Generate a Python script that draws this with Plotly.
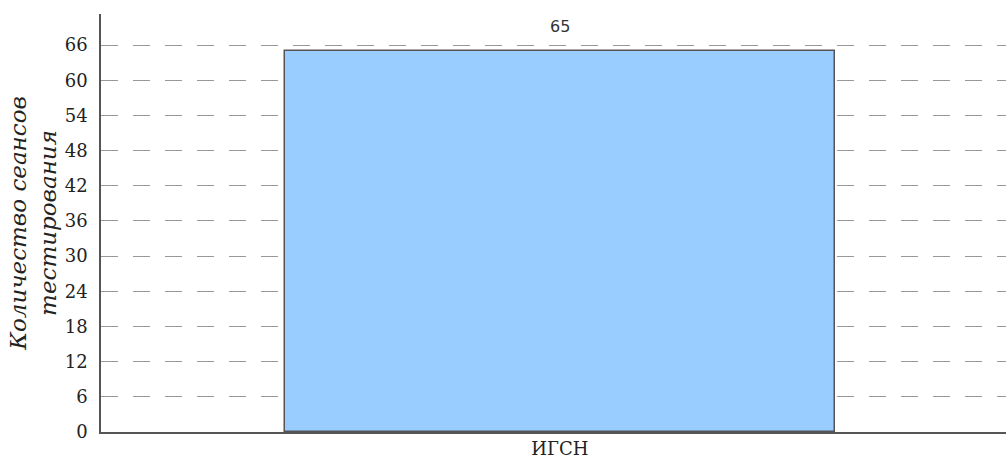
import plotly.graph_objects as go

categories = ["ИГСН"]
values = [65]
y_ticks = [0, 6, 12, 18, 24, 30, 36, 42, 48, 54, 60, 66]
y_title = "Количество сеансов<br>тестирования"

fig = go.Figure()
fig.add_trace(go.Bar(
    x=categories, y=values, width=0.6,
    marker=dict(color="#99ccff", line=dict(color="#555555", width=1.5)),
    hoverinfo="skip",
))
for c, v in zip(categories, values):
    fig.add_annotation(x=c, y=v, text=str(v), showarrow=False, yanchor="bottom",
                       yshift=13, font=dict(family="DejaVu Sans", size=16, color="#333333"))

fig.update_layout(
    width=1006, height=460,
    margin=dict(l=101, r=0, t=14, b=28),
    paper_bgcolor="white", plot_bgcolor="white",
    showlegend=False, bargap=0,
    font=dict(family="DejaVu Serif", color="#222222"),
)
fig.update_xaxes(
    range=[-0.5, 0.486], showgrid=False, showline=True, linecolor="#555555", linewidth=1.5,
    ticks="", tickfont=dict(family="DejaVu Serif", size=18, color="#222222"),
    ticklabelstandoff=0, fixedrange=True,
)
fig.update_yaxes(
    range=[0, 71.3], tickvals=y_ticks, ticktext=[str(t) for t in y_ticks],
    showgrid=True, gridcolor="#999999", gridwidth=1.2, griddash="17px,15px",
    showline=True, linecolor="#555555", linewidth=1.5, zeroline=False,
    ticks="", ticklabelstandoff=8,
    tickfont=dict(family="DejaVu Serif", size=18, color="#222222"),
    title=dict(text=y_title, font=dict(family="DejaVu Serif", size=23, style="italic", color="#222222"), standoff=2),
    fixedrange=True,
)
fig.write_html("out.html", config={"displayModeBar": False},
               post_script="document.body.style.margin='0';")
